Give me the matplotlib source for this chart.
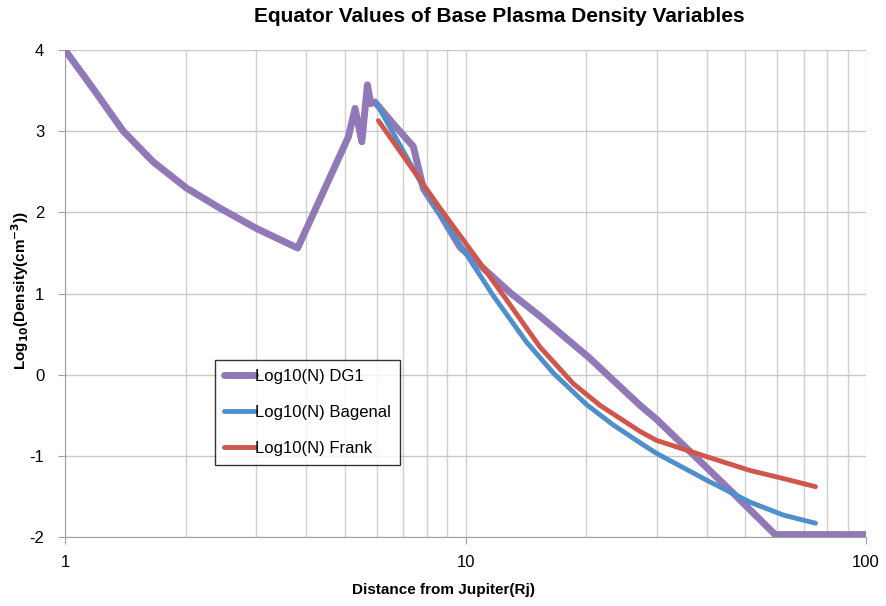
import matplotlib
matplotlib.use("Agg")
import matplotlib.pyplot as plt
from matplotlib.ticker import FixedLocator, LogLocator, NullFormatter

plt.rcParams["font.family"] = ["Liberation Sans", "DejaVu Sans"]
plt.rcParams["axes.unicode_minus"] = False

# DG1 model (purple)
dg1_r = [1.0, 1.177, 1.398, 1.662, 2.01, 2.44, 3.01, 3.81, 5.10, 5.30, 5.51, 5.69,
         5.80, 5.94, 6.60, 7.41, 7.85, 8.64, 9.69, 11.08, 13.0, 15.35, 20.46, 23.39,
         27.3, 30.0, 36.4, 46.6, 59.3, 100.0]
dg1_n = [4.0, 3.52, 3.00, 2.62, 2.30, 2.05, 1.80, 1.56, 2.93, 3.28, 2.87, 3.57,
         3.34, 3.36, 3.09, 2.81, 2.29, 1.98, 1.57, 1.31, 1.00, 0.72, 0.20, -0.07,
         -0.38, -0.55, -0.95, -1.46, -1.97, -1.97]

# Bagenal model (blue)
bag_r = [6.0, 7.85, 8.64, 10.0, 11.74, 14.21, 16.57, 20.07, 23.39, 27.3, 30.0,
         40.0, 51.3, 62.2, 74.8]
bag_n = [3.34, 2.31, 1.98, 1.50, 0.97, 0.40, 0.02, -0.37, -0.62, -0.84, -0.97,
         -1.30, -1.57, -1.73, -1.83]

# Frank model (red)
frank_r = [6.06, 8.64, 10.46, 12.67, 15.35, 18.58, 21.7, 27.3, 30.0, 40.0, 51.3,
           62.2, 74.8]
frank_n = [3.13, 2.05, 1.49, 0.92, 0.34, -0.11, -0.38, -0.70, -0.81, -1.01, -1.18,
           -1.28, -1.38]

fig = plt.figure(figsize=(8.86, 6.06), dpi=100)
ax = fig.add_axes([65 / 886, 1 - 537 / 606, 801 / 886, 487 / 606])

ax.plot(dg1_r, dg1_n, color="#9079b6", lw=5, label="Log10(N) DG1",
        solid_joinstyle="round", solid_capstyle="round", zorder=3)
ax.plot(bag_r, bag_n, color="#4f8fcc", lw=3.5, label="Log10(N) Bagenal",
        solid_joinstyle="round", solid_capstyle="round", zorder=4)
ax.plot(frank_r, frank_n, color="#d0564b", lw=3.5, label="Log10(N) Frank",
        solid_joinstyle="round", solid_capstyle="round", zorder=5)

ax.set_xscale("log")
ax.set_xlim(1, 100)
ax.set_ylim(-2, 4)
ax.yaxis.set_major_locator(FixedLocator([-2, -1, 0, 1, 2, 3, 4]))
ax.xaxis.set_major_locator(FixedLocator([1, 10, 100]))
ax.set_xticklabels(["1", "10", "100"])
ax.xaxis.set_minor_locator(LogLocator(base=10, subs=range(2, 10)))
ax.xaxis.set_minor_formatter(NullFormatter())

ax.grid(True, which="both", axis="x", color="#d0d0d0", lw=1)
ax.grid(True, which="major", axis="y", color="#c8c8c8", lw=1)
ax.set_axisbelow(True)

for side in ["top", "right"]:
    ax.spines[side].set_visible(False)
for side in ["left", "bottom"]:
    ax.spines[side].set_color("#a0a0a0")
ax.tick_params(axis="both", which="major", length=5, color="#a0a0a0",
               labelsize=12)
ax.tick_params(axis="x", which="minor", length=0)
ax.tick_params(axis="x", pad=8)
ax.tick_params(axis="y", pad=10)

fig.text(499 / 886, 1 - 16 / 606, "Equator Values of Base Plasma Density Variables",
         ha="center", va="center", fontsize=15, fontweight="bold")
fig.text(443 / 886, 1 - 590 / 606, "Distance from Jupiter(Rj)",
         ha="center", va="center", fontsize=11, fontweight="bold")
fig.text(20 / 886, 1 - 290 / 606, r"Log$_{\mathbf{10}}$(Density(cm$^{\mathbf{-3}}$))",
         ha="center", va="center", rotation=90, fontsize=11, fontweight="bold")

leg = ax.legend(loc="upper left", bbox_to_anchor=((215 - 65) / 801, (537 - 360) / 487),
                borderaxespad=0, fontsize=12, frameon=True, fancybox=False,
                handlelength=1.85, handletextpad=0.0, labelspacing=1.25,
                borderpad=0.55)
leg.get_frame().set_edgecolor("black")
leg.get_frame().set_linewidth(1.0)

fig.savefig("out.png", dpi=100)
